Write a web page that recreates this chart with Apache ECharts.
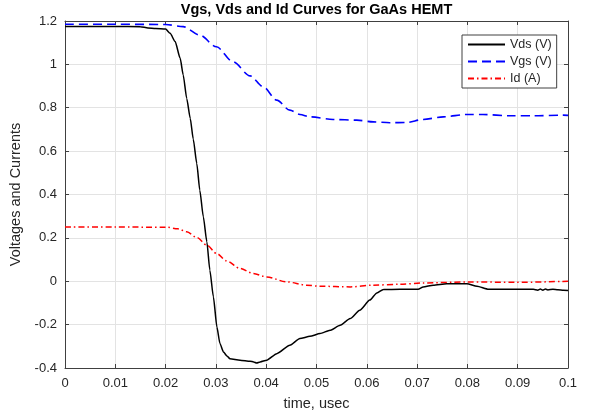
<!DOCTYPE html>
<html>
<head>
<meta charset="utf-8">
<title>Vgs, Vds and Id Curves for GaAs HEMT</title>
<script src="https://cdn.jsdelivr.net/npm/echarts@6/dist/echarts.min.js"></script>
<style>
  html, body { margin: 0; padding: 0; background: #ffffff; }
  #chart { width: 592px; height: 419px; }
</style>
</head>
<body>
<div id="chart"></div>
<script>
// Switching transient of a GaAs HEMT (time in microseconds)
const timeVds = [0, 0.005, 0.01, 0.015, 0.0165, 0.018, 0.02, 0.0209, 0.0219, 0.0229, 0.0235, 0.0242,
  0.0249, 0.0255, 0.0262, 0.0268, 0.0275, 0.0282, 0.0288, 0.0295, 0.0302, 0.0308, 0.0315, 0.0322,
  0.0328, 0.0348, 0.0368, 0.0375, 0.0381, 0.0388, 0.0401, 0.0421, 0.0447, 0.0467, 0.0487, 0.0507,
  0.0527, 0.0547, 0.0567, 0.0586, 0.0606, 0.062, 0.0633, 0.0666, 0.0702, 0.0712, 0.0732, 0.0759,
  0.0799, 0.0819, 0.0842, 0.09, 0.0931, 0.094, 0.0945, 0.095, 0.0955, 0.096, 0.097, 0.098, 0.0991, 0.1];
const vds = [1.175, 1.175, 1.175, 1.174, 1.168, 1.165, 1.163, 1.143, 1.105, 1.028, 0.951, 0.843,
  0.751, 0.655, 0.543, 0.42, 0.297, 0.182, 0.051, -0.072, -0.211, -0.287, -0.326, -0.345,
  -0.357, -0.364, -0.369, -0.372, -0.377, -0.372, -0.364, -0.334, -0.295, -0.264, -0.254, -0.241,
  -0.226, -0.203, -0.172, -0.134, -0.087, -0.054, -0.038, -0.037, -0.037, -0.026, -0.018, -0.011,
  -0.011, -0.023, -0.037, -0.037, -0.037, -0.041, -0.036, -0.041, -0.036, -0.04, -0.037, -0.039, -0.041, -0.043];

const timeVgs = [0, 0.01, 0.02, 0.0235, 0.0268, 0.0301, 0.0334, 0.0368, 0.0394, 0.0421, 0.0447, 0.0467,
  0.0487, 0.0533, 0.058, 0.0613, 0.0646, 0.0679, 0.0712, 0.0752, 0.0799, 0.0831, 0.0884, 0.0931, 0.099, 0.1];
const vgs = [1.185, 1.185, 1.184, 1.174, 1.135, 1.081, 1.012, 0.947, 0.897, 0.835, 0.789, 0.769,
  0.758, 0.746, 0.743, 0.735, 0.731, 0.732, 0.746, 0.758, 0.769, 0.769, 0.763, 0.763, 0.766, 0.765];

const timeId = [0, 0.01, 0.0202, 0.0224, 0.0242, 0.0262, 0.0282, 0.0302, 0.0321, 0.0348, 0.0374, 0.0401,
  0.0441, 0.048, 0.0507, 0.0567, 0.0612, 0.0666, 0.0712, 0.0799, 0.0897, 0.1];
const id = [0.25, 0.25, 0.249, 0.242, 0.228, 0.202, 0.166, 0.127, 0.094, 0.059, 0.036, 0.02,
  -0.003, -0.018, -0.023, -0.026, -0.018, -0.014, -0.008, -0.003, -0.005, 0];

const seriesNames = ['Vds (V)', 'Vgs (V)', 'Id (A)'];
const chartTitle = 'Vgs, Vds and Id Curves for GaAs HEMT';
const xTitle = 'time, usec';
const yTitle = 'Voltages and Currents';
const xRange = [0, 0.1, 0.01];
const yRange = [-0.4, 1.2, 0.2];

const pairs = (t, v) => t.map((x, i) => [x, v[i]]);

const AXIS = '#404040';
const TEXT = '#262626';
const FONT = '"Liberation Sans", Arial, Helvetica, sans-serif';

const fmtX = v => String(parseFloat(v.toFixed(3)));
const fmtY = v => String(parseFloat(v.toFixed(2)));

function xAxisDef(pos, main) {
  return {
    type: 'value', position: pos, min: xRange[0], max: xRange[1], interval: xRange[2],
    axisLine: { show: true, onZero: false, lineStyle: { color: AXIS, width: 1 } },
    axisTick: { show: true, inside: true, length: 4, lineStyle: { color: AXIS } },
    axisLabel: { show: main, color: TEXT, fontSize: 13, fontFamily: FONT, margin: 9, formatter: fmtX },
    splitLine: { show: main, lineStyle: { color: '#e3e3e3', width: 1 } },
    name: main ? xTitle : '', nameLocation: 'middle', nameGap: 28,
    nameTextStyle: { color: TEXT, fontSize: 14.5, fontFamily: FONT }
  };
}
function yAxisDef(pos, main) {
  return {
    type: 'value', position: pos, min: yRange[0], max: yRange[1], interval: yRange[2],
    axisLine: { show: true, onZero: false, lineStyle: { color: AXIS, width: 1 } },
    axisTick: { show: true, inside: true, length: 4, lineStyle: { color: AXIS } },
    axisLabel: { show: main, color: TEXT, fontSize: 13, fontFamily: FONT, margin: 8, formatter: fmtY },
    splitLine: { show: main, lineStyle: { color: '#e3e3e3', width: 1 } },
    name: main ? yTitle : '', nameLocation: 'middle', nameGap: 36,
    nameTextStyle: { color: TEXT, fontSize: 14.5, fontFamily: FONT }
  };
}

const chart = echarts.init(document.getElementById('chart'), null, { renderer: 'canvas' });
chart.setOption({
  animation: false,
  backgroundColor: '#ffffff',
  grid: { left: 65, right: 24, top: 21, bottom: 51, containLabel: false },
  graphic: [{
    type: 'text', x: 316.5, y: 9.5,
    style: { text: chartTitle, fill: '#000000', font: 'bold 14.5px ' + FONT,
      textAlign: 'center', textVerticalAlign: 'middle' }
  }],
  legend: {
    orient: 'vertical', left: 462, top: 35,
    padding: [3, 5, 3, 5], itemGap: 4, itemWidth: 37, itemHeight: 14,
    borderColor: AXIS, borderWidth: 1, backgroundColor: '#ffffff',
    // keep only the line sample in each legend entry
    itemStyle: { opacity: 0, borderWidth: 0 },
    textStyle: { color: TEXT, fontSize: 12.5, fontFamily: FONT },
    data: seriesNames
  },
  xAxis: [xAxisDef('bottom', true), xAxisDef('top', false)],
  yAxis: [yAxisDef('left', true), yAxisDef('right', false)],
  series: [
    { name: seriesNames[0], type: 'line', data: pairs(timeVds, vds), showSymbol: false, symbol: 'none',
      smooth: 0.2, smoothMonotone: 'x', color: '#000000',
      lineStyle: { color: '#000000', width: 1.5 }, z: 3 },
    { name: seriesNames[1], type: 'line', data: pairs(timeVgs, vgs), showSymbol: false, symbol: 'none',
      smooth: 0.3, smoothMonotone: 'x', color: '#0000ff',
      lineStyle: { color: '#0000ff', width: 1.6, type: [9, 5] }, z: 2 },
    { name: seriesNames[2], type: 'line', data: pairs(timeId, id), showSymbol: false, symbol: 'none',
      smooth: 0.3, smoothMonotone: 'x', color: '#ff0000',
      lineStyle: { color: '#ff0000', width: 1.5, type: [6, 3, 1.5, 3] }, z: 2 }
  ]
});
</script>
</body>
</html>
